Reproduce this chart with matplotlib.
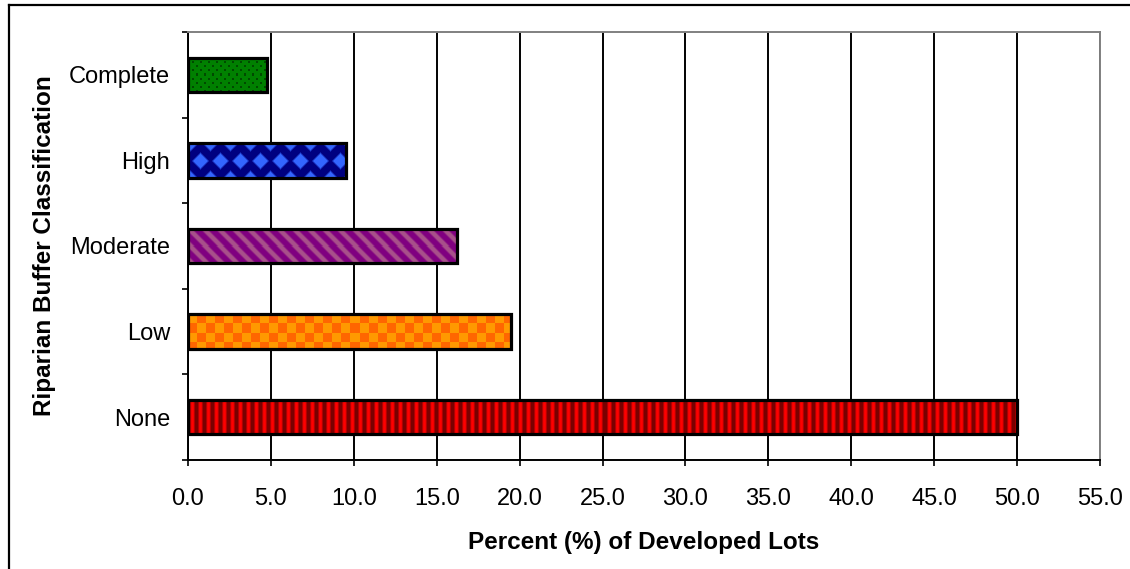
import numpy as np
import matplotlib
matplotlib.use("Agg")
import matplotlib.pyplot as plt
from matplotlib.lines import Line2D
from matplotlib.colors import to_rgb

plt.rcParams['font.family'] = ['Liberation Sans', 'DejaVu Sans']

categories = ["None", "Low", "Moderate", "High", "Complete"]
values = [50.0, 19.5, 16.2, 9.5, 4.75]
xticks = [0, 5, 10, 15, 20, 25, 30, 35, 40, 45, 50, 55]
pattern_names = ["vstripes", "checker", "diag", "diamond", "dots"]

W, H, DPI = 11.3, 5.69, 100
fig = plt.figure(figsize=(W, H), dpi=DPI)
fig.patch.set_facecolor("white")

L, R, T, B = 188 / 1130, 1100 / 1130, 1 - 32 / 569, 1 - 460 / 569
ax = fig.add_axes([L, B, R - L, T - B])
ax.set_xlim(0, 55)
ax.set_ylim(-0.5, len(categories) - 0.5)

bar_h = 0.40
px_per_x = (R - L) * W * DPI / 55.0
px_per_y = (T - B) * H * DPI / len(categories)


def pattern(name, nx, ny):
    xx, yy = np.meshgrid(np.arange(nx), np.arange(ny))
    if name == "vstripes":
        t = 0.5 + 0.5 * np.cos(2 * np.pi * xx / 8.0)
        a, b = np.array(to_rgb("#ff0000")), np.array(to_rgb("#7a0000"))
        t = np.clip(t * 1.4 - 0.1, 0, 1)[..., None]
        img = a * (1 - t) + b * t
    elif name == "checker":
        m = (((xx // 9) + (yy // 9)) % 2)[..., None]
        img = np.where(m == 0, np.array(to_rgb("#ff9900")), np.array(to_rgb("#ff6600")))
    elif name == "diag":
        d = ((xx - yy) % 15)
        t = (0.5 + 0.5 * np.cos(2 * np.pi * d / 15.0))
        t = np.clip(t * 2 - 0.7, 0, 1)[..., None]
        a, b = np.array(to_rgb("#800080")), np.array(to_rgb("#a8508a"))
        img = a * (1 - t) + b * t
    elif name == "diamond":
        px, py = 20.0, 34.0
        xc = xx - 12.0
        yc = yy - ny / 2.0
        def dist(ox, oy):
            dx = np.abs(((xc - ox + px / 2) % px) - px / 2)
            dy = np.abs(((yc - oy + py / 2) % py) - py / 2)
            return dx + dy
        d = np.minimum(dist(0, 0), dist(px / 2, py / 2))
        t = np.clip((7.5 - d) / 2.5 + 0.5, 0, 1)[..., None]
        a, b = np.array(to_rgb("#000080")), np.array(to_rgb("#3366ff"))
        img = a * (1 - t) + b * t
    else:
        base = np.array(to_rgb("#008000"))
        dot = np.array(to_rgb("#004a00"))
        m1 = ((xx % 8) < 2) & ((yy % 8) < 2)
        m2 = (((xx + 4) % 8) < 2) & (((yy + 4) % 8) < 2)
        m = (m1 | m2)[..., None]
        img = np.where(m, dot, base)
    return img


ypos = np.arange(len(categories))
for y, v, pname in zip(ypos, values, pattern_names):
    bars = ax.barh(y, v, height=bar_h, color="white", edgecolor="none", zorder=3)
    patch = bars[0]
    nx = max(int(round(v * px_per_x)), 1)
    ny = max(int(round(bar_h * px_per_y)), 1)
    img = pattern(pname, nx, ny)
    im = ax.imshow(img, extent=[0, v, y - bar_h / 2, y + bar_h / 2],
                   aspect="auto", interpolation="nearest", zorder=4)
    im.set_clip_path(patch)
    ax.barh(y, v, height=bar_h, color="none", edgecolor="black",
            linewidth=2.3, zorder=5)

ax.set_aspect("auto")
ax.set_xlim(0, 55)
ax.set_ylim(-0.5, len(categories) - 0.5)

ax.set_xticks(xticks)
ax.set_xticklabels([f"{t:.1f}" for t in xticks], fontsize=17)
ax.xaxis.grid(True, color="black", linewidth=1.4, zorder=1)
ax.set_axisbelow(True)
ax.tick_params(axis="x", direction="out", length=4.5, width=1.2, pad=15.5, colors="black")

ax.set_yticks(ypos)
ax.set_yticklabels(categories, fontsize=17)
ax.set_yticks(np.arange(-0.5, len(categories) + 0.5, 1.0), minor=True)
ax.tick_params(axis="y", which="major", length=0, pad=13)
ax.tick_params(axis="y", which="minor", direction="out", length=4.5, width=1.2)

for s in ["left", "bottom"]:
    ax.spines[s].set_color("black")
    ax.spines[s].set_linewidth(1.4)
for s in ["top", "right"]:
    ax.spines[s].set_color("#808080")
    ax.spines[s].set_linewidth(1.4)

ax.set_xlabel("Percent (%) of Developed Lots", fontsize=17.5, fontweight="bold", labelpad=15)
ax.set_ylabel("Riparian Buffer Classification", fontsize=17.5, fontweight="bold", labelpad=9.5)

fx0, fy0 = 8.5 / 1130, 1 - 5 / 569
fig.add_artist(Line2D([fx0, fx0], [fy0, -0.05], color="black", linewidth=1.6, transform=fig.transFigure))
fig.add_artist(Line2D([fx0, 1.05], [fy0, fy0], color="black", linewidth=1.6, transform=fig.transFigure))

fig.savefig("out.png", dpi=DPI, facecolor="white")
